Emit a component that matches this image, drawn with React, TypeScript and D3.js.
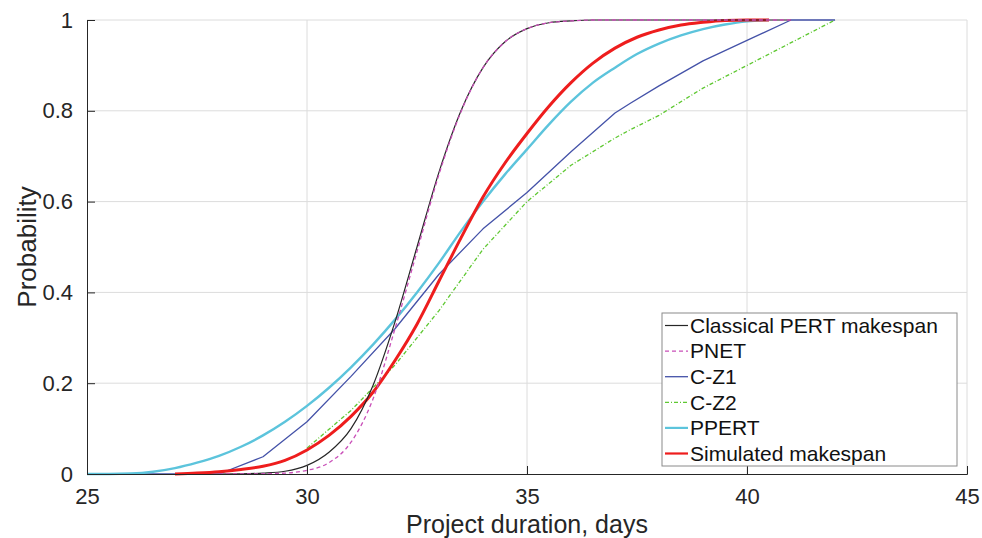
import React, { useEffect, useRef } from "react";
import * as d3 from "d3";

type Pt = [number, number];

const xTicks = [25, 30, 35, 40, 45];
const yTicks = [0, 0.2, 0.4, 0.6, 0.8, 1];
const yTickLabels = ["0", "0.2", "0.4", "0.6", "0.8", "1"];

// Classical PERT makespan
const pertX = [28, 28.5, 29, 29.5, 30, 30.5, 31, 31.5, 32, 32.5, 33, 33.5, 34, 34.5, 35, 35.5, 36, 36.5, 37, 38, 39, 40, 41];
const pertP = [0, 0.0004, 0.002, 0.006, 0.019, 0.048, 0.1, 0.195, 0.335, 0.5, 0.665, 0.8, 0.895, 0.952, 0.981, 0.994, 0.998, 1, 1, 1, 1, 1, 1];

// PNET
const pnetX = [28, 28.5, 29, 29.5, 30, 30.5, 31, 31.5, 32, 32.5, 33, 33.5, 34, 34.5, 35, 35.5, 36, 36.5, 37, 38, 39, 40, 41];
const pnetP = [0, 0, 0.0005, 0.002, 0.008, 0.025, 0.07, 0.165, 0.32, 0.49, 0.66, 0.798, 0.895, 0.952, 0.981, 0.994, 0.998, 1, 1, 1, 1, 1, 1];

// C-Z1
const cz1X = [25, 28, 29, 30, 31, 32, 33, 34, 35, 36, 37, 37.34, 38, 39, 40, 41, 42];
const cz1P = [0, 0, 0.038, 0.115, 0.215, 0.32, 0.44, 0.54, 0.62, 0.71, 0.795, 0.816, 0.855, 0.91, 0.955, 1, 1];

// C-Z2
const cz2X = [30, 31, 32, 33, 34, 35, 36, 37, 37.34, 38, 39, 40, 41, 42];
const cz2P = [0.057, 0.14, 0.24, 0.36, 0.495, 0.6, 0.68, 0.74, 0.758, 0.79, 0.85, 0.9, 0.95, 1];

// PPERT
const ppertX = [25, 25.5, 26, 26.5, 27, 27.5, 28, 28.5, 29, 29.5, 30, 30.5, 31, 31.5, 32, 32.5, 33, 33.5, 34, 34.5, 35, 35.5, 36, 36.5, 37, 37.5, 38, 38.5, 39, 39.5, 40, 40.5];
const ppertP = [0, 0, 0.001, 0.005, 0.013, 0.025, 0.04, 0.06, 0.085, 0.115, 0.15, 0.19, 0.235, 0.285, 0.34, 0.4, 0.465, 0.535, 0.6, 0.66, 0.715, 0.77, 0.82, 0.862, 0.895, 0.925, 0.948, 0.966, 0.98, 0.99, 0.997, 1];

// Simulated makespan
const simX = [27, 27.5, 28, 28.5, 29, 29.5, 30, 30.5, 31, 31.5, 32, 32.5, 33, 33.5, 34, 34.5, 35, 35.5, 36, 36.5, 37, 37.5, 38, 38.5, 39, 39.5, 40, 40.5];
const simP = [0, 0.002, 0.005, 0.01, 0.017, 0.03, 0.053, 0.085, 0.127, 0.18, 0.25, 0.33, 0.425, 0.52, 0.61, 0.685, 0.75, 0.81, 0.862, 0.905, 0.938, 0.962, 0.978, 0.989, 0.995, 0.999, 1, 1];

const seriesNames = ["Classical PERT makespan", "PNET", "C-Z1", "C-Z2", "PPERT", "Simulated makespan"];

const zip = (xs: number[], ps: number[]): Pt[] => xs.map((x, i) => [x, ps[i]]);

const App = () => {
  const svgRef = useRef<SVGSVGElement>(null);

  useEffect(() => {
    const width = 982;
    const height = 538;
    const m = { left: 87, right: 15, top: 20, bottom: 64 };

    const svg = d3.select(svgRef.current).attr("width", width).attr("height", height);
    svg.selectAll("*").remove();

    const x = d3.scaleLinear().domain([25, 45]).range([m.left, width - m.right]);
    const y = d3.scaleLinear().domain([0, 1]).range([height - m.bottom, m.top]);

    const font = "'Liberation Sans', Arial, Helvetica, sans-serif";

    // grid
    const grid = svg.append("g").attr("stroke", "#dcdcdc").attr("stroke-width", 1);
    xTicks.slice(1).forEach((t) => {
      grid.append("line").attr("x1", x(t)).attr("x2", x(t)).attr("y1", y(0)).attr("y2", y(1));
    });
    yTicks.slice(1).forEach((t) => {
      grid.append("line").attr("x1", x(25)).attr("x2", x(45)).attr("y1", y(t)).attr("y2", y(t));
    });

    const series = [
      { name: seriesNames[0], data: zip(pertX, pertP), color: "#262626", w: 1.2, dash: null },
      { name: seriesNames[1], data: zip(pnetX, pnetP), color: "#c94fb8", w: 1.3, dash: "4,3" },
      { name: seriesNames[2], data: zip(cz1X, cz1P), color: "#4452a8", w: 1.3, dash: null },
      { name: seriesNames[3], data: zip(cz2X, cz2P), color: "#5fc832", w: 1.3, dash: "4,2,1,2" },
      { name: seriesNames[4], data: zip(ppertX, ppertP), color: "#5cc4dc", w: 2.4, dash: null },
      { name: seriesNames[5], data: zip(simX, simP), color: "#ee1d1d", w: 3, dash: null },
    ];

    const line = d3
      .line<Pt>()
      .x((d) => x(d[0]))
      .y((d) => y(d[1]))
      .curve(d3.curveMonotoneX);
    const straight = d3
      .line<Pt>()
      .x((d) => x(d[0]))
      .y((d) => y(d[1]));

    // C-Z1 first so the others sit on top, like the reference
    const order = [2, 3, 4, 5, 0, 1];
    order.forEach((i) => {
      const s = series[i];
      const gen = i === 2 || i === 3 ? straight : line;
      svg
        .append("path")
        .datum(s.data)
        .attr("fill", "none")
        .attr("stroke", s.color)
        .attr("stroke-width", s.w)
        .attr("stroke-dasharray", s.dash)
        .attr("stroke-linejoin", "round")
        .attr("d", gen);
    });

    // axes
    const xAxis = svg
      .append("g")
      .attr("transform", `translate(0,${y(0)})`)
      .call(d3.axisBottom(x).tickValues(xTicks).tickSize(-8).tickPadding(14));
    xAxis.select(".domain").attr("stroke", "#262626");
    xAxis.selectAll(".tick line").attr("stroke", "#262626");
    xAxis
      .selectAll("text")
      .attr("font-family", font)
      .attr("font-size", 22)
      .attr("fill", "#262626")
      .attr("dy", "0.71em");

    const yAxis = svg
      .append("g")
      .attr("transform", `translate(${x(25)},0)`)
      .call(
        d3
          .axisLeft(y)
          .tickValues(yTicks)
          .tickFormat((d, i) => yTickLabels[i])
          .tickSize(-8)
          .tickPadding(14)
      );
    yAxis.select(".domain").attr("stroke", "#262626");
    yAxis.selectAll(".tick line").attr("stroke", "#262626");
    yAxis
      .selectAll("text")
      .attr("font-family", font)
      .attr("font-size", 22)
      .attr("fill", "#262626");

    svg
      .append("text")
      .attr("x", (x(25) + x(45)) / 2)
      .attr("y", 533)
      .attr("text-anchor", "middle")
      .attr("font-family", font)
      .attr("font-size", 25)
      .attr("fill", "#262626")
      .text("Project duration, days");

    svg
      .append("text")
      .attr("transform", `translate(36,${(y(0) + y(1)) / 2}) rotate(-90)`)
      .attr("text-anchor", "middle")
      .attr("font-family", font)
      .attr("font-size", 26)
      .attr("fill", "#262626")
      .text("Probability");

    // legend
    const lg = svg.append("g").attr("transform", "translate(662,313)");
    lg.append("rect")
      .attr("width", 295)
      .attr("height", 153)
      .attr("fill", "#fff")
      .attr("stroke", "#8a8a8a")
      .attr("stroke-width", 1);
    series.forEach((s, i) => {
      const cy = 12.5 + i * 25.6;
      lg.append("line")
        .attr("x1", 3)
        .attr("x2", 26)
        .attr("y1", cy)
        .attr("y2", cy)
        .attr("stroke", s.color)
        .attr("stroke-width", Math.min(s.w, 2.2))
        .attr("stroke-dasharray", s.dash);
      lg.append("text")
        .attr("x", 28)
        .attr("y", cy)
        .attr("dy", "0.35em")
        .attr("font-family", font)
        .attr("font-size", 21)
        .attr("fill", "#111")
        .text(s.name);
    });
  }, []);

  return (
    <div style={{ position: "absolute", left: 0, top: 0 }}>
      <svg ref={svgRef}></svg>
    </div>
  );
};

export default App;
